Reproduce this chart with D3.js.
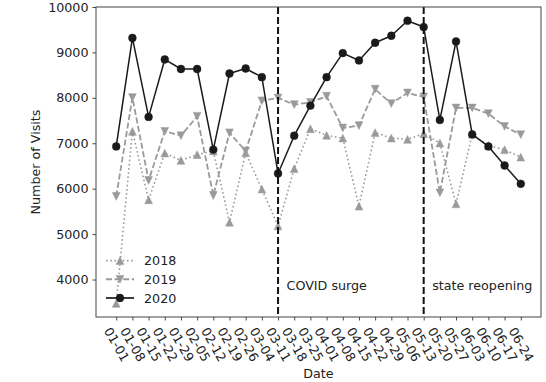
<!DOCTYPE html>
<html>
<head>
<meta charset="utf-8">
<script src="https://cdn.jsdelivr.net/npm/d3@7/dist/d3.min.js"></script>
<style>
  html, body { margin: 0; padding: 0; background: #fff; }
  svg { display: block; font-family: "DejaVu Sans", sans-serif; }
</style>
</head>
<body>
<svg id="chart" width="546" height="382"></svg>
<script>
const dates = ["01-01","01-08","01-15","01-22","01-29","02-05","02-12","02-19","02-26","03-04","03-11","03-18","03-25","04-01","04-08","04-15","04-22","04-29","05-06","05-13","05-20","05-27","06-03","06-10","06-17","06-24"];
const visits2018 = [3473, 7263, 5755, 6784, 6623, 6750, 6830, 5260, 6790, 5990, 5180, 6440, 7320, 7174, 7115, 5614, 7234, 7115, 7086, 7211, 7005, 5667, 7200, 6950, 6858, 6695];
const visits2019 = [5830, 8006, 6181, 7263, 7167, 7594, 5850, 7230, 6830, 7935, 7998, 7850, 7900, 8035, 7336, 7388, 8190, 7874, 8108, 8020, 5909, 7777, 7777, 7653, 7370, 7190];
const visits2020 = [6930, 9320, 7580, 8845, 8635, 8635, 6860, 8536, 8646, 8455, 6336, 7167, 7829, 8455, 8985, 8823, 9213, 9367, 9698, 9559, 7513, 9242, 7195, 6930, 6510, 6108];
const yTicks = [4000, 5000, 6000, 7000, 8000, 9000, 10000];
const events = [{date: "03-11", label: "COVID surge"}, {date: "05-13", label: "state reopening"}];
const seriesNames = ["2018", "2019", "2020"];

const svg = d3.select("#chart");
const L = 96, R = 541, T = 7, B = 317;
const FS = 12.7;

const x = d3.scaleLinear().domain([-1.25, dates.length - 1 + 1.25]).range([L, R]);
const y = d3.scaleLinear().domain([3175, 10000]).range([B, T]);

const series = [
  {name: seriesNames[0], values: visits2018, color: "#9a9a9a", width: 1.6, dash: "1.6,2.6", marker: "up"},
  {name: seriesNames[1], values: visits2019, color: "#9a9a9a", width: 1.8, dash: "6,2.6", marker: "down"},
  {name: seriesNames[2], values: visits2020, color: "#1a1a1a", width: 1.5, dash: null, marker: "circle"}
];

const R_M = 3.9;
function markerPath(kind) {
  const r = R_M;
  if (kind === "up") return `M0,${-r}L${-r},${r}L${r},${r}Z`;
  if (kind === "down") return `M0,${r}L${-r},${-r}L${r},${-r}Z`;
  return d3.symbol().type(d3.symbolCircle).size(Math.PI * r * r)();
}

// series
const line = d3.line().x((d, i) => x(i)).y(d => y(d));
series.forEach(s => {
  const g = svg.append("g");
  g.append("path")
    .attr("d", line(s.values))
    .attr("fill", "none")
    .attr("stroke", s.color)
    .attr("stroke-width", s.width)
    .attr("stroke-dasharray", s.dash)
    .attr("stroke-linejoin", "round");
  g.selectAll("path.m").data(s.values).enter().append("path")
    .attr("class", "m")
    .attr("d", markerPath(s.marker))
    .attr("transform", (d, i) => `translate(${x(i)},${y(d)})`)
    .attr("fill", s.color)
    .attr("stroke", s.color)
    .attr("stroke-width", 0.5);
});

// event lines
events.forEach(ev => {
  const i = dates.indexOf(ev.date);
  svg.append("line")
    .attr("x1", x(i)).attr("x2", x(i))
    .attr("y1", T).attr("y2", B)
    .attr("stroke", "#111")
    .attr("stroke-width", 2)
    .attr("stroke-dasharray", "7,3");
  svg.append("text")
    .attr("x", x(i) + 8.5)
    .attr("y", 289.5)
    .attr("font-size", FS)
    .attr("fill", "#222")
    .text(ev.label);
});

// axes
const xAxis = d3.axisBottom(x)
  .tickValues(d3.range(dates.length))
  .tickFormat(i => dates[i])
  .tickSize(3.5)
  .tickPadding(3);
const gx = svg.append("g").attr("transform", `translate(0,${B})`).call(xAxis);
gx.select(".domain").remove();
gx.selectAll(".tick line").attr("stroke", "#333").attr("stroke-width", 0.9);
gx.selectAll(".tick text")
  .attr("font-size", FS)
  .attr("fill", "#222")
  .attr("font-family", "DejaVu Sans, sans-serif")
  .attr("text-anchor", "middle")
  .attr("dominant-baseline", "central")
  .attr("y", 0).attr("dy", null)
  .attr("transform", "translate(0,27.5) rotate(60)");

const yAxis = d3.axisLeft(y)
  .tickValues(yTicks)
  .tickFormat(d3.format("d"))
  .tickSize(3.5)
  .tickPadding(4);
const gy = svg.append("g").attr("transform", `translate(${L},0)`).call(yAxis);
gy.select(".domain").remove();
gy.selectAll(".tick line").attr("stroke", "#333").attr("stroke-width", 0.9);
gy.selectAll(".tick text")
  .attr("font-size", FS)
  .attr("fill", "#222")
  .attr("font-family", "DejaVu Sans, sans-serif");

// frame
svg.append("rect")
  .attr("x", L).attr("y", T)
  .attr("width", R - L).attr("height", B - T)
  .attr("fill", "none")
  .attr("stroke", "#444")
  .attr("stroke-width", 1);

// axis labels
svg.append("text")
  .attr("transform", `translate(40,162) rotate(-90)`)
  .attr("text-anchor", "middle")
  .attr("font-size", FS)
  .attr("fill", "#222")
  .text("Number of Visits");
svg.append("text")
  .attr("x", (L + R) / 2)
  .attr("y", 378)
  .attr("text-anchor", "middle")
  .attr("font-size", FS)
  .attr("fill", "#222")
  .text("Date");

// legend
const legY = [260.6, 279.3, 298.0];
series.forEach((s, k) => {
  const g = svg.append("g").attr("transform", `translate(0,${legY[k]})`);
  g.append("line")
    .attr("x1", 106).attr("x2", 134).attr("y1", 0).attr("y2", 0)
    .attr("stroke", s.color)
    .attr("stroke-width", s.width + 0.2)
    .attr("stroke-dasharray", s.dash);
  g.append("path")
    .attr("d", markerPath(s.marker))
    .attr("transform", "translate(120,0)")
    .attr("fill", s.color)
    .attr("stroke", s.color)
    .attr("stroke-width", 0.5);
  g.append("text")
    .attr("x", 144)
    .attr("y", 0)
    .attr("dominant-baseline", "central")
    .attr("font-size", FS)
    .attr("fill", "#222")
    .text(s.name);
});
</script>
</body>
</html>
